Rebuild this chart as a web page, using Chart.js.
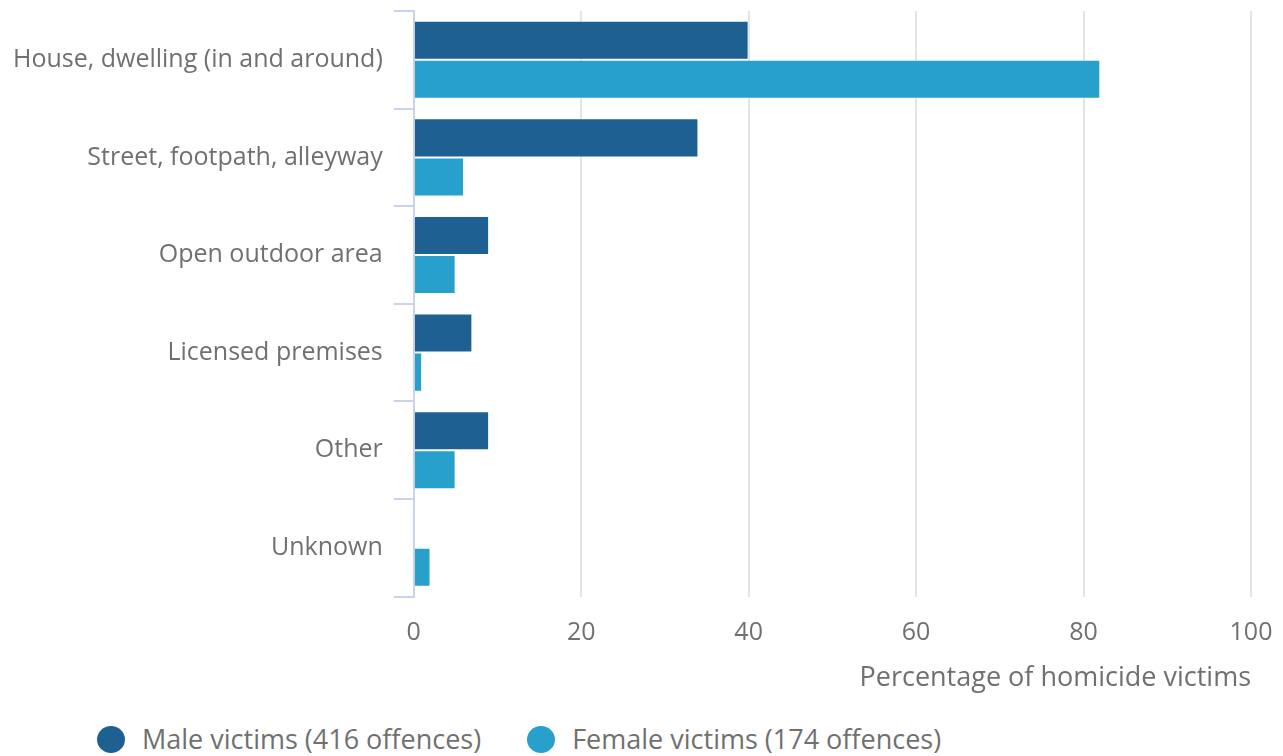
<!DOCTYPE html>
<html>
<head>
<meta charset="utf-8">
<script src="https://cdn.jsdelivr.net/npm/chart.js@4/dist/chart.umd.min.js"></script>
<style>
	body { margin:0; background:#fff; font-family:"Open Sans", sans-serif; overflow:hidden; }
	#wrap { position:relative; width:1283px; height:756px; overflow:hidden; }
	#chart { position:absolute; left:0; top:-15px; }
	#legend { position:absolute; left:97px; top:720px; display:flex; color:#707070; font-size:27px; line-height:38px; }
	.item { display:flex; align-items:center; margin-right:46px; }
	.dot { width:28px; height:27px; border-radius:50%; margin-right:17px; }
</style>
</head>
<body>
<div id="wrap">
	<canvas id="chart" width="1283" height="715"></canvas>
	<div id="legend"></div>
</div>
<script>
// data
var categories = ["House, dwelling (in and around)", "Street, footpath, alleyway", "Open outdoor area", "Licensed premises", "Other", "Unknown"];
var maleValues = [40, 34, 9, 7, 9, 0];
var femaleValues = [82, 6, 5, 1, 5, 2];
var seriesLabels = ["Male victims (416 offences)", "Female victims (174 offences)"];
var xTicks = [0, 20, 40, 60, 80, 100];
var axisTitle = "Percentage of homicide victims";

var colours = ["#1f6092", "#27a0cc"];
var textGrey = "#707070";

var ctx = document.getElementById('chart').getContext('2d');
chart = new Chart(ctx, {
	type: 'bar',
	data: {
		labels: categories,
		datasets: [{
			label: seriesLabels[0],
			data: maleValues,
			backgroundColor: colours[0],
			borderColor: 'rgba(255,255,255,0.5)',
			borderWidth: 1,
			categoryPercentage: 0.8,
			barPercentage: 1.0
		}, {
			label: seriesLabels[1],
			data: femaleValues,
			backgroundColor: colours[1],
			borderColor: 'rgba(255,255,255,0.5)',
			borderWidth: 1,
			categoryPercentage: 0.8,
			barPercentage: 1.0
		}]
	},
	options: {
		indexAxis: 'y',
		responsive: false,
		animation: false,
		layout: { padding: { left: 2, right: 32, top: 0, bottom: 5 } },
		plugins: {
			legend: { display: false },
			tooltip: { enabled: false }
		},
		scales: {
			x: {
				min: 0,
				max: 100,
				afterBuildTicks: function(axis) {
					axis.ticks = xTicks.map(v => ({ value: v }));
				},
				afterFit: function(axis) {
					// the tick padding would otherwise push the right edge in
					axis.paddingRight = 10;
				},
				grid: {
					color: function(c) { return c.index == 0 ? 'rgba(0,0,0,0)' : '#e4e4e4'; },
					lineWidth: 2,
					drawTicks: false
				},
				border: { display: false },
				ticks: {
					color: textGrey,
					font: { family: 'Open Sans', size: 25 },
					padding: 21
				},
				title: {
					display: true,
					text: axisTitle,
					align: 'end',
					color: textGrey,
					font: { family: 'Open Sans', size: 27 },
					padding: { top: -6, bottom: 0 }
				}
			},
			y: {
				grid: {
					drawOnChartArea: false,
					drawTicks: true,
					tickLength: 20,
					color: '#ccd3e8',
					lineWidth: 2,
					offset: true
				},
				border: { color: '#ccd3e8', width: 2 },
				ticks: {
					color: textGrey,
					font: { family: 'Open Sans', size: 25 },
					padding: 11
				}
			}
		}
	}
});

// html legend
var legend = document.getElementById('legend');
seriesLabels.forEach(function(lbl, i) {
	var item = document.createElement('div');
	item.className = 'item';
	item.innerHTML = '<span class="dot" style="background:' + colours[i] + '"></span>' + lbl;
	legend.appendChild(item);
});
</script>
</body>
</html>
